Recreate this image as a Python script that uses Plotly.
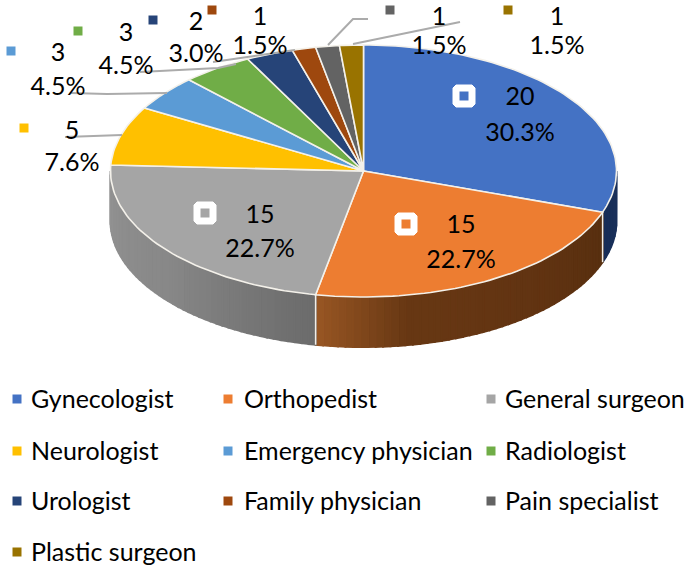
import numpy as np
import plotly.graph_objects as go

categories = ["Gynecologist", "Orthopedist", "General surgeon", "Neurologist", "Emergency physician",
              "Radiologist", "Urologist", "Family physician", "Pain specialist", "Plastic surgeon"]
values = [20, 15, 15, 5, 3, 3, 2, 1, 1, 1]
colors = ["#4472C4", "#ED7D31", "#A5A5A5", "#FFC000", "#5B9BD5", "#70AD47", "#264478", "#9E480E", "#636363", "#997300"]

FONT = "Lato"
FS = 25
CX, CY, RX, RY, DEPTH = 363.5, 171, 253, 126, 50

fig = go.Figure()
total = sum(values)
edges = np.concatenate([[0], np.cumsum(values)]) / total * 2 * np.pi


def arc(t0, t1, n=60, dy=0):
    t = np.linspace(t0, t1, n)
    return CX + RX * np.sin(t), CY + dy - RY * np.cos(t)


def poly(x, y, fill, line=None, width=0):
    fig.add_trace(go.Scatter(x=list(x), y=list(y), mode="lines", fill="toself", fillcolor=fill,
                             line=dict(color=line or fill, width=width), hoverinfo="skip", showlegend=False))


def lerp(stops, f):
    for (a, ca), (b, cb) in zip(stops, stops[1:]):
        if f <= b:
            g = (f - a) / (b - a)
            c = [ca[i] + (cb[i] - ca[i]) * g for i in range(3)]
            return "rgb(%d,%d,%d)" % tuple(c)
    return "rgb(%d,%d,%d)" % tuple(stops[-1][1])


# side walls: per-slice stops run along the visible arc
side_stops = {
    0: [(0, (27, 50, 92)), (1, (24, 46, 88))],
    1: [(0, (88, 48, 16)), (0.35, (98, 52, 18)), (0.75, (104, 56, 20)), (1, (150, 85, 35))],
    2: [(0, (108, 108, 108)), (0.5, (136, 136, 136)), (1, (146, 146, 146))],
}
for i, stops in side_stops.items():
    t0, t1 = edges[i], edges[i + 1]
    t0 = max(t0, np.pi / 2)
    t1 = min(t1, 1.5 * np.pi)
    n = 48 if i else 8
    ts = np.linspace(t0, t1, n + 1)
    for k in range(n):
        xa, ya = arc(ts[k], ts[k + 1], 4)
        xb, yb = arc(ts[k + 1], ts[k], 4, DEPTH)
        poly(np.r_[xa, xb, xa[0]], np.r_[ya, yb, ya[0]], lerp(stops, k / (n - 1)), width=2)

# front edges between side walls
for i in (0, 1):
    x, y = arc(edges[i + 1], edges[i + 1], 1)
    fig.add_trace(go.Scatter(x=[x[0], x[0]], y=[y[0], y[0] + DEPTH], mode="lines",
                             line=dict(color="#F2EEE8", width=1.5), hoverinfo="skip", showlegend=False))

# top face
for i, c in enumerate(colors):
    n = max(8, int((edges[i + 1] - edges[i]) * 40))
    x, y = arc(edges[i], edges[i + 1], n)
    poly(np.r_[CX, x, CX], np.r_[CY, y, CY], c, line="#F4F1EA", width=1.6)

# leader lines
leaders = [
    ([65, 122], [137, 135]),
    ([71, 107, 167], [93, 94, 93]),
    ([140, 218, 236], [72, 68, 64]),
    ([213, 295], [62, 50]),
    ([368, 353, 328], [19, 19, 45]),
    ([460, 353], [22, 44]),
]
for lx, ly in leaders:
    fig.add_trace(go.Scatter(x=lx, y=ly, mode="lines", line=dict(color="#ABABAB", width=2),
                             hoverinfo="skip", showlegend=False))

# data labels: swatch x,y then label centre x, count y, percent y
label_pos = [
    (464, 96, 520, 99, 135),
    (406, 224, 461, 227, 262),
    (205, 213, 260, 217, 251),
    (24, 128, 72, 133, 165),
    (11, 51, 58, 55, 89),
    (78, 31, 126, 35, 68),
    (153, 20, 196, 24, 56),
    (212, 10, 260, 19, 48),
    (390, 10, 439, 19, 48),
    (508, 10, 557, 19, 48),
]
for i, (sx, sy, lx, y1, y2) in enumerate(label_pos):
    if i < 3:
        r, d = 11, 3
        px = [sx-r+d, sx+r-d, sx+r, sx+r, sx+r-d, sx-r+d, sx-r, sx-r, sx-r+d]
        py = [sy-r, sy-r, sy-r+d, sy+r-d, sy+r, sy+r, sy+r-d, sy-r+d, sy-r]
        poly(px, py, "white", line="white", width=1)
    fig.add_trace(go.Scatter(x=[sx], y=[sy], mode="markers",
                             marker=dict(symbol="square", size=9, color=colors[i], line=dict(width=0)),
                             hoverinfo="skip", showlegend=False))
    fig.add_trace(go.Scatter(x=[lx, lx], y=[y1, y2], mode="text",
                             text=[str(values[i]), f"{values[i] / total * 100:.1f}%"],
                             textposition="middle center", cliponaxis=False,
                             textfont=dict(family=FONT, size=FS, color="black"),
                             hoverinfo="skip", showlegend=False))

# legend grid
col_x = [17, 228, 491]
text_x = [29, 242, 503]
row_y = [399, 451, 501, 552]
for i, name in enumerate(categories):
    mx, my = col_x[i % 3], row_y[i // 3]
    fig.add_trace(go.Scatter(x=[mx], y=[my], mode="markers",
                             marker=dict(symbol="square", size=9, color=colors[i], line=dict(width=0)),
                             hoverinfo="skip", showlegend=False))
    fig.add_annotation(x=text_x[i % 3], y=my - 1, text=name, showarrow=False, xanchor="left", yanchor="middle",
                       font=dict(family=FONT, size=FS, color="black"))

fig.update_layout(
    width=685, height=565, margin=dict(l=0, r=0, t=0, b=0), autosize=False,
    paper_bgcolor="white", plot_bgcolor="white", showlegend=False,
    xaxis=dict(range=[0, 685], visible=False, fixedrange=True),
    yaxis=dict(range=[565, 0], visible=False, fixedrange=True),
)
fig.write_html("out.html", config={"displayModeBar": False},
               post_script="document.body.style.margin='0';document.body.style.overflow='hidden';")
